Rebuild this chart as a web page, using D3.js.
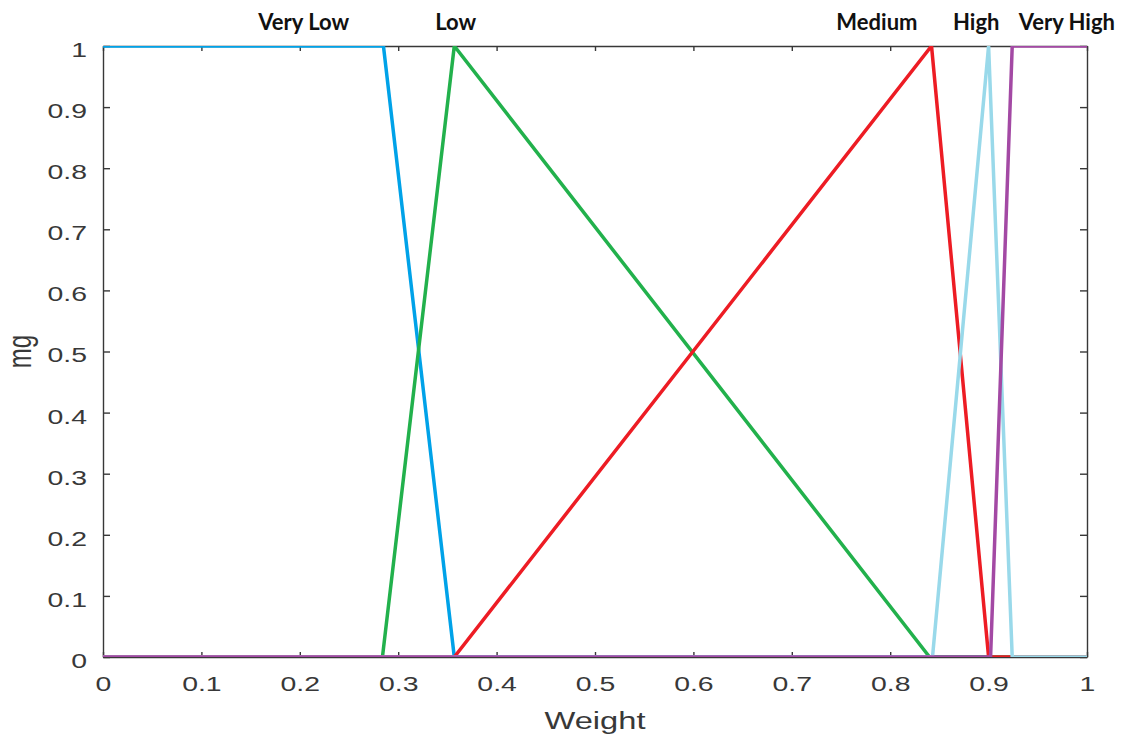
<!DOCTYPE html>
<html>
<head>
<meta charset="utf-8">
<script src="https://cdn.jsdelivr.net/npm/d3@7/dist/d3.min.js"></script>
<style>
  html, body { margin: 0; padding: 0; background: #fff; }
  svg { display: block; }
</style>
</head>
<body>
<svg id="chart" width="1125" height="738"></svg>
<script>
// Membership functions of the "Weight" variable
const setNames  = ["Very Low", "Low", "Medium", "High", "Very High"];
const setColors = ["#00a2e8", "#22b14c", "#ed1c24", "#99d9ea", "#a349a4"];

const veryLowX  = [0, 0.285, 0.357, 1];
const veryLowY  = [1, 1, 0, 0];
const lowX      = [0, 0.284, 0.357, 0.840, 1];
const lowY      = [0, 0, 1, 0, 0];
const mediumX   = [0, 0.357, 0.842, 0.900, 1];
const mediumY   = [0, 0, 1, 0, 0];
const highX     = [0, 0.843, 0.900, 0.924, 1];
const highY     = [0, 0, 1, 0, 0];
const veryHighX = [0, 0.902, 0.924, 1];
const veryHighY = [0, 0, 1, 1];

// Where each set's name sits along the top (x in data units)
const setLabelX = [0.204, 0.3585, 0.7865, 0.8875, 0.9795];

const xTicks      = [0, 0.1, 0.2, 0.3, 0.4, 0.5, 0.6, 0.7, 0.8, 0.9, 1];
const xTickLabels = ["0", "0.1", "0.2", "0.3", "0.4", "0.5", "0.6", "0.7", "0.8", "0.9", "1"];
const yTicks      = [0, 0.1, 0.2, 0.3, 0.4, 0.5, 0.6, 0.7, 0.8, 0.9, 1];
const yTickLabels = ["0", "0.1", "0.2", "0.3", "0.4", "0.5", "0.6", "0.7", "0.8", "0.9", "1"];

const xTitle = "Weight";
const yTitle = "mg";

const seriesX = [veryLowX, lowX, mediumX, highX, veryHighX];
const seriesY = [veryLowY, lowY, mediumY, highY, veryHighY];

// ---- layout ----
const W = 1125, H = 738;
const margin = { top: 46, right: 38, bottom: 81, left: 103 };
const pw = W - margin.left - margin.right;
const ph = H - margin.top - margin.bottom;
const stretch = 1.42;          // horizontal stretch of the axis lettering
const axisColor = "#383838";

const svg = d3.select("#chart");

const x = d3.scaleLinear().domain([0, 1]).range([margin.left, margin.left + pw]);
const y = d3.scaleLinear().domain([0, 1]).range([margin.top + ph, margin.top]);

svg.append("defs").append("clipPath").attr("id", "plotClip")
  .append("rect")
  .attr("x", margin.left).attr("y", margin.top)
  .attr("width", pw).attr("height", ph);

function styleAxis(g) {
  g.select(".domain").attr("stroke", axisColor).attr("stroke-width", 1.4);
  g.selectAll(".tick line").attr("stroke", axisColor).attr("stroke-width", 1.4);
}

// bottom axis with labels
const gx = svg.append("g")
  .attr("transform", `translate(0,${margin.top + ph})`)
  .call(d3.axisBottom(x).tickValues(xTicks)
    .tickFormat((d, i) => xTickLabels[i])
    .tickSizeInner(-5).tickSizeOuter(0).tickPadding(20));
styleAxis(gx);
gx.selectAll(".tick text")
  .attr("fill", axisColor)
  .style("font-family", "'Liberation Sans', Arial, sans-serif")
  .style("font-size", "20px")
  .attr("transform", `scale(${stretch},1)`);

// top axis, ticks only
const gt = svg.append("g")
  .attr("transform", `translate(0,${margin.top})`)
  .call(d3.axisTop(x).tickValues(xTicks).tickFormat("")
    .tickSizeInner(-5).tickSizeOuter(0));
styleAxis(gt);

// left axis with labels
const gy = svg.append("g")
  .attr("transform", `translate(${margin.left},0)`)
  .call(d3.axisLeft(y).tickValues(yTicks)
    .tickFormat((d, i) => yTickLabels[i])
    .tickSizeInner(-7).tickSizeOuter(0).tickPadding(0));
styleAxis(gy);
gy.selectAll(".tick text")
  .attr("fill", axisColor)
  .style("font-family", "'Liberation Sans', Arial, sans-serif")
  .style("font-size", "20px")
  .attr("x", -16 / stretch)
  .attr("dy", "0.52em")
  .attr("transform", `scale(${stretch},1)`);

// right axis, ticks only
const gr = svg.append("g")
  .attr("transform", `translate(${margin.left + pw},0)`)
  .call(d3.axisRight(y).tickValues(yTicks).tickFormat("")
    .tickSizeInner(-7).tickSizeOuter(0));
styleAxis(gr);

// axis titles
svg.append("text")
  .attr("transform", `translate(${x(0.5)},729) scale(${stretch},1)`)
  .attr("text-anchor", "middle")
  .attr("fill", axisColor)
  .style("font-family", "'Liberation Sans', Arial, sans-serif")
  .style("font-size", "23px")
  .text(xTitle);

svg.append("text")
  .attr("transform", `translate(21.5,${y(0.5)}) scale(${stretch},1) rotate(-90)`)
  .attr("text-anchor", "middle")
  .attr("dy", "0.28em")
  .attr("fill", axisColor)
  .style("font-family", "'Liberation Sans', Arial, sans-serif")
  .style("font-size", "24px")
  .text(yTitle);

// membership curves
const line = d3.line().x(d => x(d[0])).y(d => y(d[1]));
const curves = svg.append("g").attr("clip-path", "url(#plotClip)");
seriesX.forEach((xs, i) => {
  const pts = xs.map((v, j) => [v, seriesY[i][j]]);
  curves.append("path")
    .datum(pts)
    .attr("d", line)
    .attr("fill", "none")
    .attr("stroke", setColors[i])
    .attr("stroke-width", 3.5)
    .attr("stroke-linejoin", "miter");
});

// set names along the top
svg.append("g").selectAll("text")
  .data(setNames)
  .join("text")
  .attr("x", (d, i) => x(setLabelX[i]))
  .attr("y", 30)
  .attr("text-anchor", "middle")
  .attr("fill", "#111")
  .style("font-family", "Lato, 'Open Sans', sans-serif")
  .style("font-weight", "bold")
  .style("font-size", "22px")
  .text(d => d);
</script>
</body>
</html>
